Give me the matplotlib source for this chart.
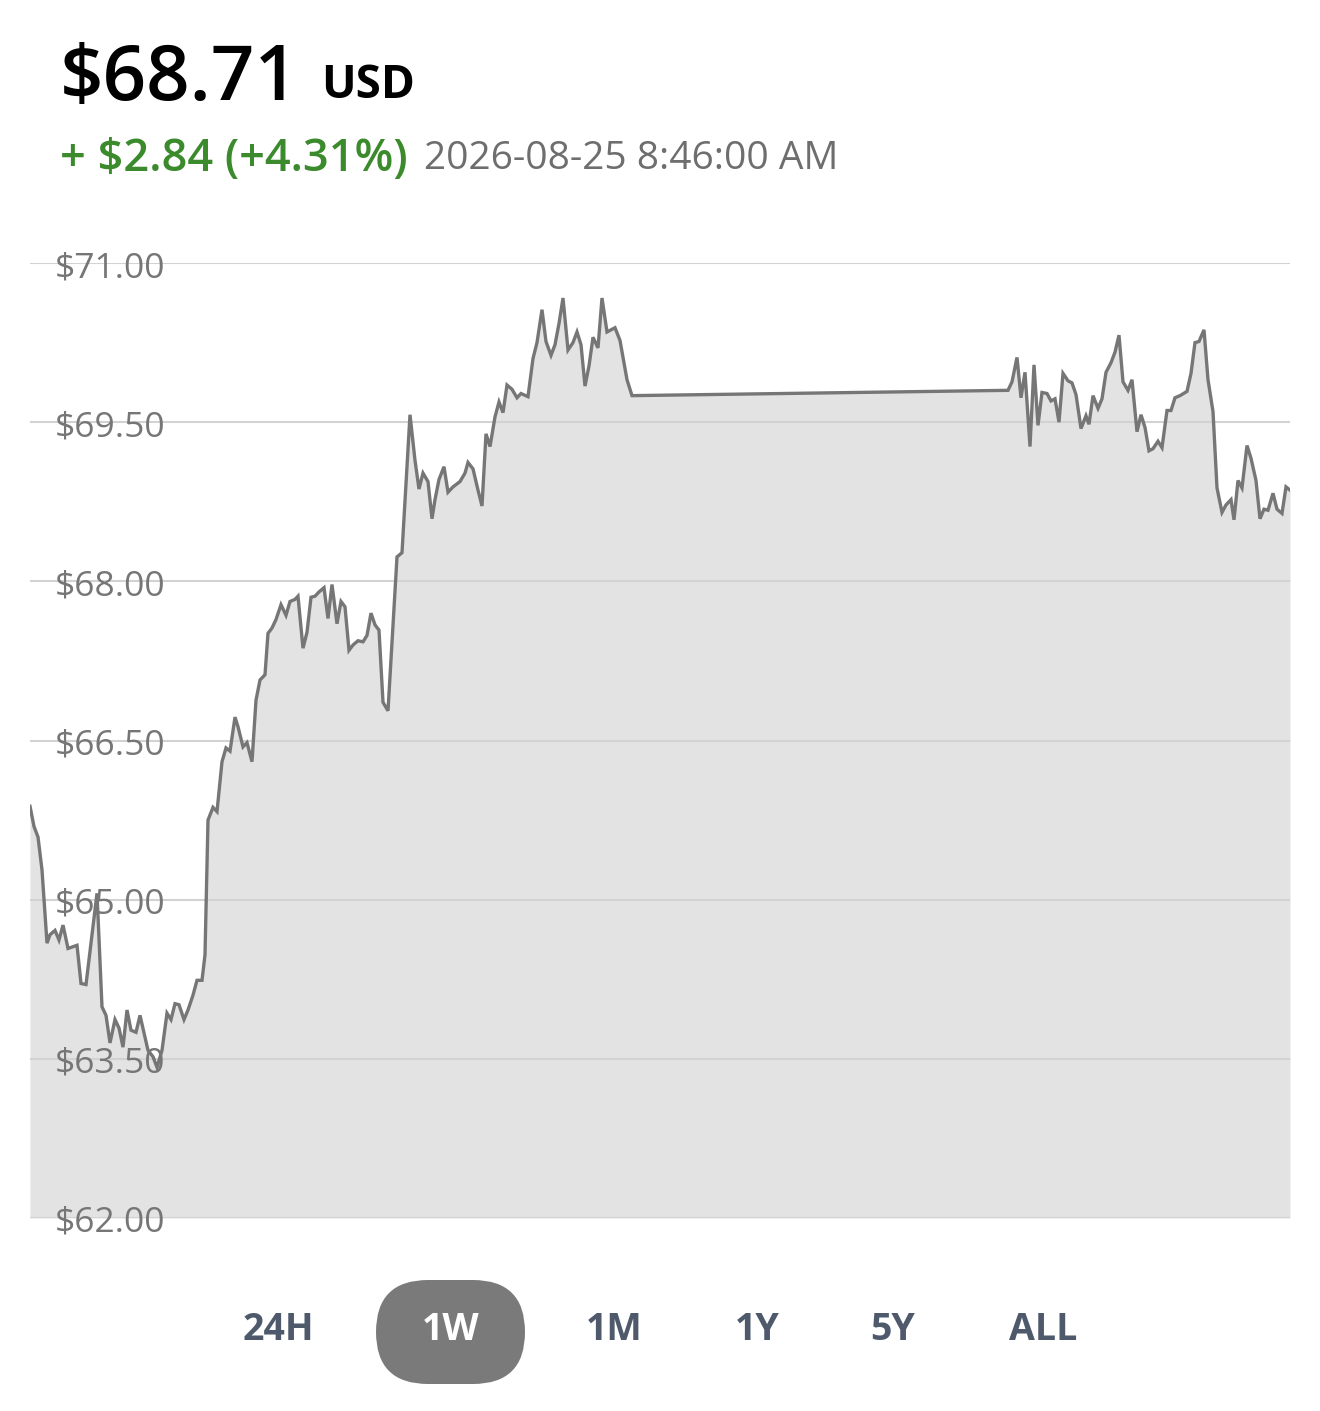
import matplotlib.pyplot as plt
from matplotlib.patches import FancyBboxPatch
import numpy as np

# --- data (t = time step along the week, price in USD) ---
t = [0, 4, 8, 12, 17, 20, 25, 29, 33, 38, 47, 51, 56, 67, 72, 76, 80, 85, 89, 93,
     97, 101, 106, 110, 118, 123, 127, 132, 137, 141, 145, 149, 154, 158, 163, 167,
     172, 175, 178, 183, 187, 192, 196, 200, 205, 208, 213, 217, 222, 226, 230, 235,
     238, 242, 246, 251, 256, 260, 265, 268, 273, 277, 281, 285, 289, 294, 298, 302,
     307, 311, 315, 319, 323, 328, 333, 337, 341, 345, 349, 353, 358, 367, 372, 380,
     385, 389, 393, 398, 402, 405, 409, 414, 418, 423, 430, 435, 438, 443, 448, 452,
     456, 460, 465, 469, 473, 477, 482, 487, 491, 498, 503, 507, 512, 516, 521, 525,
     529, 533, 538, 543, 547, 551, 555, 559, 563, 568, 572, 577, 585, 590, 597, 602,
     978, 982, 987, 991, 995, 1000, 1004, 1008, 1012, 1017, 1021, 1025, 1029, 1033,
     1038, 1042, 1046, 1051, 1056, 1059, 1063, 1068, 1072, 1076, 1081, 1085, 1089,
     1093, 1098, 1102, 1107, 1111, 1115, 1119, 1123, 1128, 1132, 1137, 1141, 1145,
     1150, 1157, 1161, 1165, 1169, 1174, 1178, 1183, 1187, 1192, 1196, 1201, 1204,
     1208, 1212, 1217, 1221, 1226, 1230, 1234, 1238, 1243, 1247, 1252, 1256, 1260]

price = [65.88, 65.69, 65.59, 65.28, 64.59, 64.67, 64.71, 64.62, 64.76, 64.54, 64.57,
         64.21, 64.20, 65.06, 63.99, 63.91, 63.65, 63.87, 63.79, 63.61, 63.96, 63.77,
         63.75, 63.91, 63.58, 63.52, 63.42, 63.58, 63.93, 63.87, 64.02, 64.01, 63.87,
         63.96, 64.10, 64.24, 64.24, 64.48, 65.75, 65.87, 65.83, 66.30, 66.43, 66.40,
         66.72, 66.63, 66.44, 66.48, 66.30, 66.88, 67.07, 67.12, 67.51, 67.56, 67.64,
         67.78, 67.68, 67.81, 67.83, 67.86, 67.37, 67.52, 67.85, 67.86, 67.90, 67.94,
         67.65, 67.97, 67.60, 67.81, 67.76, 67.35, 67.40, 67.44, 67.43, 67.49, 67.70,
         67.59, 67.54, 66.86, 66.78, 68.23, 68.27, 69.57, 69.14, 68.87, 69.02, 68.94,
         68.59, 68.77, 68.96, 69.08, 68.84, 68.89, 68.94, 69.02, 69.12, 69.06, 68.86,
         68.71, 69.39, 69.27, 69.55, 69.69, 69.59, 69.85, 69.81, 69.73, 69.77, 69.74,
         70.10, 70.25, 70.56, 70.26, 70.13, 70.23, 70.43, 70.67, 70.18, 70.25, 70.35,
         70.23, 69.84, 70.03, 70.30, 70.20, 70.67, 70.35, 70.39, 70.27, 69.90, 69.75,
         69.80, 69.88, 70.11, 69.73, 69.97, 69.27, 70.04, 69.47, 69.78, 69.77, 69.70,
         69.72, 69.50, 69.96, 69.89, 69.87, 69.76, 69.44, 69.56, 69.48, 69.75, 69.63,
         69.72, 69.97, 70.06, 70.16, 70.32, 69.88, 69.80, 69.90, 69.41, 69.57, 69.45,
         69.23, 69.25, 69.32, 69.26, 69.61, 69.61, 69.73, 69.75, 69.79, 69.96, 70.25,
         70.26, 70.37, 69.90, 69.60, 68.88, 68.65, 68.72, 68.77, 68.58, 68.95, 68.88,
         69.28, 69.16, 68.95, 68.59, 68.68, 68.67, 68.83, 68.68, 68.64, 68.89, 68.86]

y_ticks = [62.0, 63.5, 65.0, 66.5, 68.0, 69.5, 71.0]
ranges = ['24H', '1W', '1M', '1Y', '5Y', 'ALL']
selected = '1W'

last_price = '$68.71'
change_txt = '+ $2.84 (+4.31%)'
stamp = '2026-08-25 8:46:00 AM'

W, H = 1320, 1411
fig = plt.figure(figsize=(W / 100, H / 100), dpi=100)
fig.patch.set_facecolor('white')
plt.rcParams['font.family'] = ['Open Sans', 'DejaVu Sans']

# --- price chart ---
ax = fig.add_axes([30 / W, (H - 1218) / H, 1260 / W, 955 / H])
ax.fill_between(t, price, 62.0, color='#e3e3e3', lw=0, zorder=1)
ax.plot(t, price, color='#767676', lw=2.4, zorder=4, solid_joinstyle='miter')
for v in y_ticks:
    ax.axhline(v, color='#d2d2d2', lw=1.5, zorder=2)
    ax.annotate(f'${v:.2f}', xy=(25 / 1260, v), xycoords=ax.get_yaxis_transform(),
                xytext=(0, -5), textcoords='offset pixels',
                fontsize=25.5, color='#767676', va='center', ha='left', zorder=3)
ax.set_xlim(0, 1260)
ax.set_ylim(62.0, 71.0)
ax.axis('off')

# --- header and range buttons (overlay in pixel units) ---
ov = fig.add_axes([0, 0, 1, 1])
ov.set_xlim(0, W)
ov.set_ylim(H, 0)
ov.axis('off')
ov.patch.set_alpha(0)

ov.text(60, 100, last_price, fontsize=55, color='black', fontweight='semibold',
        va='baseline', ha='left')
ov.text(321, 98, 'USD', fontsize=33, color='black', fontweight='bold',
        va='baseline', ha='left')
ov.text(60, 171, change_txt, fontsize=32.5, color='#3b8a2c', fontweight='semibold',
        va='baseline', ha='left')
ov.text(424, 169, stamp, fontsize=28, color='#6e6e6e', va='baseline', ha='left')

centers = [278, 451, 614, 757, 893, 1043]
for lab, cx in zip(ranges, centers):
    if lab == selected:
        pill = FancyBboxPatch((376, 1280), 149, 104,
                              boxstyle='round,pad=0,rounding_size=52',
                              facecolor='#7a7a7a', edgecolor='none')
        ov.add_patch(pill)
        col = 'white'
    else:
        col = '#4e5a6b'
    ov.text(cx, 1330, lab, fontsize=27, fontweight='bold', color=col,
            ha='center', va='center')

fig.savefig('out.png', dpi=100, facecolor='white')
